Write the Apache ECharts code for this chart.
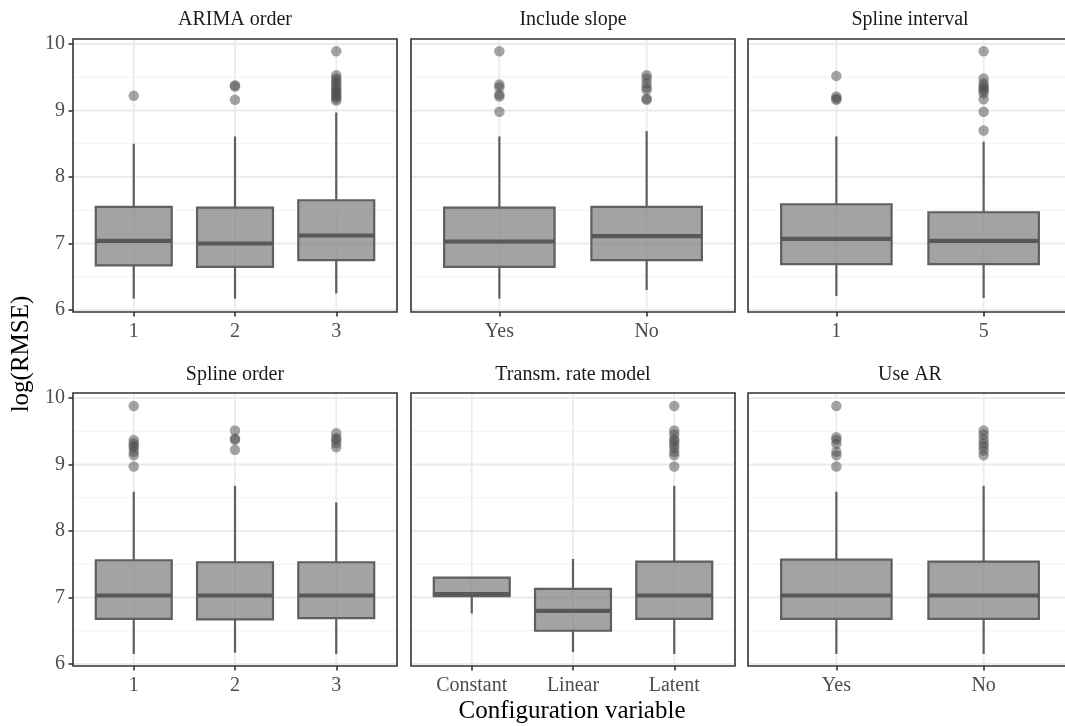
<!DOCTYPE html>
<html>
<head>
<meta charset="utf-8">
<title>log(RMSE) by configuration variable</title>
<script src="https://cdn.jsdelivr.net/npm/echarts@6/dist/echarts.min.js"></script>
<style>
  html, body { margin: 0; padding: 0; background: #fff; }
  #chart { width: 1065px; height: 726px; }
</style>
</head>
<body>
<div id="chart"></div>
<script>
// facet titles, reading order (row 1 then row 2)
const panelTitles = ['ARIMA order', 'Include slope', 'Spline interval', 'Spline order', 'Transm. rate model', 'Use AR']

// each box: [lower whisker, Q1, median, Q3, upper whisker]
const arimaCats = ['1', '2', '3']
const arimaBoxes = [[6.17, 6.67, 7.04, 7.55, 8.50], [6.17, 6.65, 7.00, 7.54, 8.61], [6.25, 6.75, 7.12, 7.65, 8.97]]
const arimaOutliers = [[9.22], [9.16, 9.36, 9.38], [9.15, 9.18, 9.21, 9.24, 9.27, 9.30, 9.33, 9.37, 9.41, 9.45, 9.48, 9.53, 9.89]]

const slopeCats = ['Yes', 'No']
const slopeBoxes = [[6.17, 6.65, 7.03, 7.54, 8.61], [6.30, 6.75, 7.11, 7.55, 8.69]]
const slopeOutliers = [[8.98, 9.21, 9.24, 9.35, 9.39, 9.89], [9.16, 9.18, 9.31, 9.35, 9.41, 9.48, 9.53]]

const intervalCats = ['1', '5']
const intervalBoxes = [[6.21, 6.69, 7.07, 7.59, 8.61], [6.18, 6.69, 7.04, 7.47, 8.53]]
const intervalOutliers = [[9.16, 9.18, 9.21, 9.52], [8.70, 8.98, 9.17, 9.26, 9.30, 9.33, 9.37, 9.41, 9.48, 9.89]]

const splineCats = ['1', '2', '3']
const splineBoxes = [[6.15, 6.68, 7.03, 7.56, 8.59], [6.17, 6.67, 7.03, 7.53, 8.68], [6.15, 6.69, 7.03, 7.53, 8.43]]
const splineOutliers = [[8.97, 9.14, 9.19, 9.25, 9.28, 9.32, 9.37, 9.88], [9.22, 9.37, 9.39, 9.51], [9.26, 9.32, 9.37, 9.40, 9.47]]

const rateCats = ['Constant', 'Linear', 'Latent']
const rateBoxes = [[6.76, 7.02, 7.05, 7.30, 7.30], [6.18, 6.50, 6.80, 7.13, 7.58], [6.15, 6.68, 7.03, 7.54, 8.68]]
const rateOutliers = [[], [], [8.97, 9.14, 9.19, 9.25, 9.30, 9.35, 9.38, 9.45, 9.51, 9.88]]

const arCats = ['Yes', 'No']
const arBoxes = [[6.15, 6.68, 7.03, 7.57, 8.59], [6.15, 6.68, 7.03, 7.54, 8.68]]
const arOutliers = [[8.97, 9.14, 9.19, 9.31, 9.37, 9.41, 9.88], [9.14, 9.21, 9.27, 9.32, 9.38, 9.45, 9.51]]

// shared y axis
const yTicks = [6, 7, 8, 9, 10]
const yMinorTicks = [6.5, 7.5, 8.5, 9.5]
const yRange = [5.97, 10.075]

const panels = [
  { cats: arimaCats, boxes: arimaBoxes, outliers: arimaOutliers },
  { cats: slopeCats, boxes: slopeBoxes, outliers: slopeOutliers },
  { cats: intervalCats, boxes: intervalBoxes, outliers: intervalOutliers },
  { cats: splineCats, boxes: splineBoxes, outliers: splineOutliers },
  { cats: rateCats, boxes: rateBoxes, outliers: rateOutliers },
  { cats: arCats, boxes: arBoxes, outliers: arOutliers }
]

// layout (px)
const PANEL_LEFT = [73, 411, 748]
const PANEL_TOP = [39, 393]
const PANEL_W = 324
const PANEL_H = 273
const FONT = '"Liberation Serif", "DejaVu Serif", serif'
const BOX_WIDTH = 0.75 // in category units, like ggplot
const LINE_COLOR = '#5f5f5f'

// horizontal major/minor grid lines, drawn across the whole panel
function hGridSeries(i) {
  return {
    type: 'custom',
    xAxisIndex: i,
    yAxisIndex: i,
    z: 1,
    silent: true,
    data: yMinorTicks.map(v => [1, v, 0]).concat(yTicks.map(v => [1, v, 1])),
    renderItem(params, api) {
      const cs = params.coordSys
      const y = api.coord([api.value(0), api.value(1)])[1]
      const major = api.value(2) === 1
      return {
        type: 'line',
        shape: { x1: cs.x + 1, y1: y, x2: cs.x + cs.width - 1, y2: y },
        style: { stroke: major ? '#ebebeb' : '#f2f2f2', lineWidth: major ? 1.8 : 1 }
      }
    }
  }
}

// vertical grid line at each category
function vGridSeries(i, cats) {
  return {
    type: 'custom',
    xAxisIndex: i,
    yAxisIndex: i,
    z: 1,
    silent: true,
    data: cats.map((c, k) => [k + 1, 8]),
    renderItem(params, api) {
      const cs = params.coordSys
      const x = api.coord([api.value(0), api.value(1)])[0]
      return {
        type: 'line',
        shape: { x1: x, y1: cs.y + 1, x2: x, y2: cs.y + cs.height - 1 },
        style: { stroke: '#ebebeb', lineWidth: 1.8 }
      }
    }
  }
}

// ggplot-style box: no whisker caps, thick median
function boxSeries(i, boxes) {
  return {
    type: 'custom',
    xAxisIndex: i,
    yAxisIndex: i,
    z: 3,
    silent: true,
    encode: { x: 0, y: [1, 2, 3, 4, 5] },
    data: boxes.map((b, k) => [k + 1].concat(b)),
    renderItem(params, api) {
      const x = api.value(0)
      const px = v => api.coord([x, v])
      const [cx, yLo] = px(api.value(1))
      const yQ1 = px(api.value(2))[1]
      const yMed = px(api.value(3))[1]
      const yQ3 = px(api.value(4))[1]
      const yHi = px(api.value(5))[1]
      const half = api.size([BOX_WIDTH, 0])[0] / 2
      const lineStyle = { stroke: LINE_COLOR, lineWidth: 2.2 }
      return {
        type: 'group',
        children: [
          { type: 'line', shape: { x1: cx, y1: yLo, x2: cx, y2: yQ1 }, style: lineStyle },
          { type: 'line', shape: { x1: cx, y1: yQ3, x2: cx, y2: yHi }, style: lineStyle },
          {
            type: 'rect',
            shape: { x: cx - half, y: yQ3, width: half * 2, height: yQ1 - yQ3 },
            style: { fill: 'rgba(128,128,128,0.72)', stroke: LINE_COLOR, lineWidth: 2.2 }
          },
          { type: 'line', shape: { x1: cx - half, y1: yMed, x2: cx + half, y2: yMed }, style: { stroke: '#585858', lineWidth: 4.2 } }
        ]
      }
    }
  }
}

function outlierSeries(i, outliers) {
  const pts = []
  outliers.forEach((list, k) => list.forEach(v => pts.push([k + 1, v])))
  return {
    type: 'scatter',
    xAxisIndex: i,
    yAxisIndex: i,
    z: 4,
    silent: true,
    symbolSize: 10.5,
    itemStyle: { color: 'rgba(77,77,77,0.64)' },
    data: pts
  }
}

const grids = []
const xAxes = []
const yAxes = []
const series = []
const graphics = []

panels.forEach((p, i) => {
  const row = Math.floor(i / 3)
  const col = i % 3
  const n = p.cats.length
  const catValues = p.cats.map((c, k) => k + 1)
  grids.push({
    left: PANEL_LEFT[col],
    top: PANEL_TOP[row],
    width: PANEL_W,
    height: PANEL_H,
    show: true,
    borderColor: '#333333',
    borderWidth: 1.6,
    backgroundColor: 'transparent',
    outerBoundsMode: 'none'
  })
  xAxes.push({
    type: 'value',
    gridIndex: i,
    min: 0.4,
    max: n + 0.6,
    axisLine: { show: false },
    axisTick: { customValues: catValues, length: 4.5, lineStyle: { color: '#333333', width: 1.6 } },
    axisLabel: {
      customValues: catValues,
      formatter: v => p.cats[Math.round(v) - 1],
      margin: 10,
      fontFamily: FONT,
      fontSize: 20,
      color: '#4d4d4d'
    },
    splitLine: { show: false }
  })
  yAxes.push({
    type: 'value',
    gridIndex: i,
    min: yRange[0],
    max: yRange[1],
    axisLine: { show: false },
    axisTick: { show: col === 0, customValues: yTicks, length: 4.5, lineStyle: { color: '#333333', width: 1.6 } },
    axisLabel: { show: col === 0, customValues: yTicks, margin: 8, fontFamily: FONT, fontSize: 20, color: '#4d4d4d' },
    splitLine: { show: false }
  })
  series.push(hGridSeries(i), vGridSeries(i, p.cats), boxSeries(i, p.boxes), outlierSeries(i, p.outliers))
  graphics.push({
    type: 'text',
    x: PANEL_LEFT[col] + PANEL_W / 2,
    y: row === 0 ? 20 : 375,
    style: { text: panelTitles[i], font: '20px ' + FONT, fill: '#1a1a1a', textAlign: 'center', textVerticalAlign: 'middle' }
  })
})

graphics.push({
  type: 'text',
  x: 572,
  y: 711,
  style: { text: 'Configuration variable', font: '25px ' + FONT, fill: '#000', textAlign: 'center', textVerticalAlign: 'middle' }
})
graphics.push({
  type: 'text',
  x: 21,
  y: 354,
  rotation: Math.PI / 2,
  style: { text: 'log(RMSE)', font: '25px ' + FONT, fill: '#000', textAlign: 'center', textVerticalAlign: 'middle' }
})

const chart = echarts.init(document.getElementById('chart'), null, { renderer: 'canvas' })
chart.setOption({
  animation: false,
  backgroundColor: '#ffffff',
  grid: grids,
  xAxis: xAxes,
  yAxis: yAxes,
  series: series,
  graphic: graphics
})
</script>
</body>
</html>
